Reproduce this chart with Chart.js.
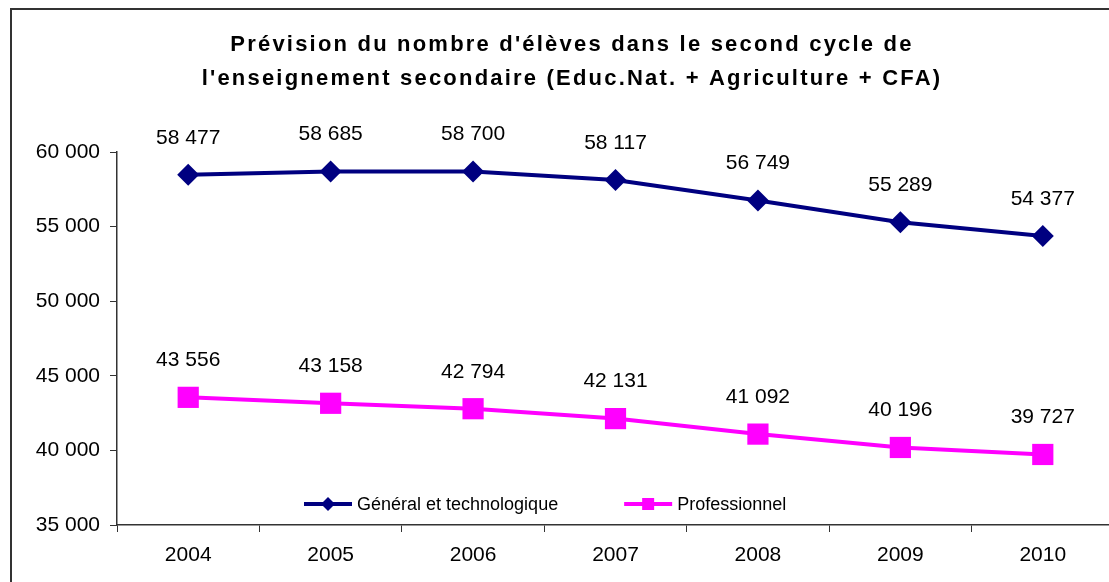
<!DOCTYPE html>
<html>
<head>
<meta charset="utf-8">
<script src="https://cdn.jsdelivr.net/npm/chart.js@4/dist/chart.umd.min.js"></script>
<style>
    html, body { margin: 0; padding: 0; background: #fff; overflow: hidden; width: 1109px; height: 582px; }
    #frame { position: absolute; left: 10px; top: 8px; width: 1200px; height: 700px; border: 2px solid #333; }
    #wrap { position: absolute; left: 0; top: 0; width: 1130px; height: 582px; }
</style>
</head>
<body>
<div id="frame"></div>
<div id="wrap"><canvas id="chart"></canvas></div>
<script>
// Data
const years = ['2004', '2005', '2006', '2007', '2008', '2009', '2010'];
const generalValues = [58477, 58685, 58700, 58117, 56749, 55289, 54377];
const proValues = [43556, 43158, 42794, 42131, 41092, 40196, 39727];
const seriesNames = ['Général et technologique', 'Professionnel'];
const titleLines = ["Prévision du nombre d'élèves dans le second cycle de", "l'enseignement secondaire (Educ.Nat. + Agriculture + CFA)"];
const yMin = 35000, yMax = 60000, yStep = 5000;

const FONT = '"Liberation Sans", Arial, sans-serif';
Chart.defaults.font.family = FONT;
Chart.defaults.color = '#000';

// 58477 -> "58 477"
function fmt(v) {
    return String(v).replace(/\B(?=(\d{3})+(?!\d))/g, ' ');
}

// Title with wide letter spacing (the built-in title only reserves the space)
const spacedTitle = {
    id: 'spacedTitle',
    afterDraw(chart) {
        const box = chart.titleBlock;
        const ctx = chart.ctx;
        const cx = (box.left + box.right) / 2;
        ctx.save();
        ctx.font = 'bold 22px ' + FONT;
        ctx.letterSpacing = '2.2px';
        ctx.fillStyle = '#000';
        ctx.textAlign = 'center';
        ctx.textBaseline = 'middle';
        titleLines.forEach((line, i) => {
            ctx.fillText(line, cx + 1, box.top + 28 + 17 + i * 34);
        });
        ctx.restore();
    }
};

// Value labels above each point
const valueLabels = {
    id: 'valueLabels',
    afterDatasetsDraw(chart) {
        const ctx = chart.ctx;
        ctx.save();
        ctx.font = '21px ' + FONT;
        ctx.fillStyle = '#000';
        ctx.textAlign = 'center';
        ctx.textBaseline = 'middle';
        chart.data.datasets.forEach((ds, i) => {
            chart.getDatasetMeta(i).data.forEach((pt, j) => {
                ctx.fillText(fmt(ds.data[j]), pt.x, pt.y - 37);
            });
        });
        ctx.restore();
    }
};

// Legend drawn inside the plot area, near the bottom
const innerLegend = {
    id: 'innerLegend',
    afterDraw(chart) {
        const ctx = chart.ctx;
        const y = chart.chartArea.bottom - 21;
        let x = 304;
        ctx.save();
        ctx.font = '18px ' + FONT;
        ctx.textBaseline = 'middle';
        ctx.textAlign = 'left';
        chart.data.datasets.forEach((ds) => {
            ctx.strokeStyle = ds.borderColor;
            ctx.fillStyle = ds.borderColor;
            ctx.lineWidth = 4;
            ctx.beginPath();
            ctx.moveTo(x, y);
            ctx.lineTo(x + 48, y);
            ctx.stroke();
            const cx = x + 24;
            ctx.beginPath();
            if (ds.pointStyle === 'rectRot') {
                ctx.moveTo(cx, y - 7);
                ctx.lineTo(cx + 7, y);
                ctx.lineTo(cx, y + 7);
                ctx.lineTo(cx - 7, y);
                ctx.closePath();
            } else {
                ctx.rect(cx - 6, y - 6, 12, 12);
            }
            ctx.fill();
            ctx.fillStyle = '#000';
            ctx.fillText(ds.label, x + 53, y + 1);
            x += 53 + ctx.measureText(ds.label).width + 66;
        });
        ctx.restore();
    }
};

new Chart(document.getElementById('chart'), {
    type: 'line',
    data: {
        labels: years,
        datasets: [
            {
                label: seriesNames[0],
                data: generalValues,
                borderColor: '#000080',
                backgroundColor: '#000080',
                borderWidth: 4,
                pointStyle: 'rectRot',
                pointRadius: 11,
                pointBorderWidth: 0,
                tension: 0
            },
            {
                label: seriesNames[1],
                data: proValues,
                borderColor: '#FF00FF',
                backgroundColor: '#FF00FF',
                borderWidth: 4,
                pointStyle: 'rect',
                pointRadius: 15,
                pointBorderWidth: 0,
                tension: 0
            }
        ]
    },
    options: {
        responsive: true,
        maintainAspectRatio: false,
        animation: false,
        layout: { padding: { left: 28, right: 16, top: 0, bottom: 0 } },
        plugins: {
            legend: { display: false },
            tooltip: { enabled: false },
            title: {
                display: true,
                text: titleLines,
                color: 'rgba(0,0,0,0)',
                font: { size: 22, weight: 'bold', lineHeight: 34 / 22 },
                padding: { top: 28, bottom: 56 }
            }
        },
        scales: {
            x: {
                offset: true,
                grid: { offset: true, drawOnChartArea: false, tickLength: 7, color: '#333', lineWidth: 1 },
                border: { color: '#333', width: 1.5 },
                ticks: { font: { size: 21 }, color: '#000', padding: 11 },
                afterFit: (s) => { s.height = 57; }
            },
            y: {
                min: yMin,
                max: yMax,
                grid: { drawOnChartArea: false, tickLength: 7, color: '#333', lineWidth: 1 },
                border: { color: '#333', width: 1.5 },
                ticks: { stepSize: yStep, font: { size: 21 }, color: '#000', padding: 10, callback: (v) => fmt(v) },
                afterFit: (s) => { s.width = 89; }
            }
        }
    },
    plugins: [spacedTitle, valueLabels, innerLegend]
});
</script>
</body>
</html>
